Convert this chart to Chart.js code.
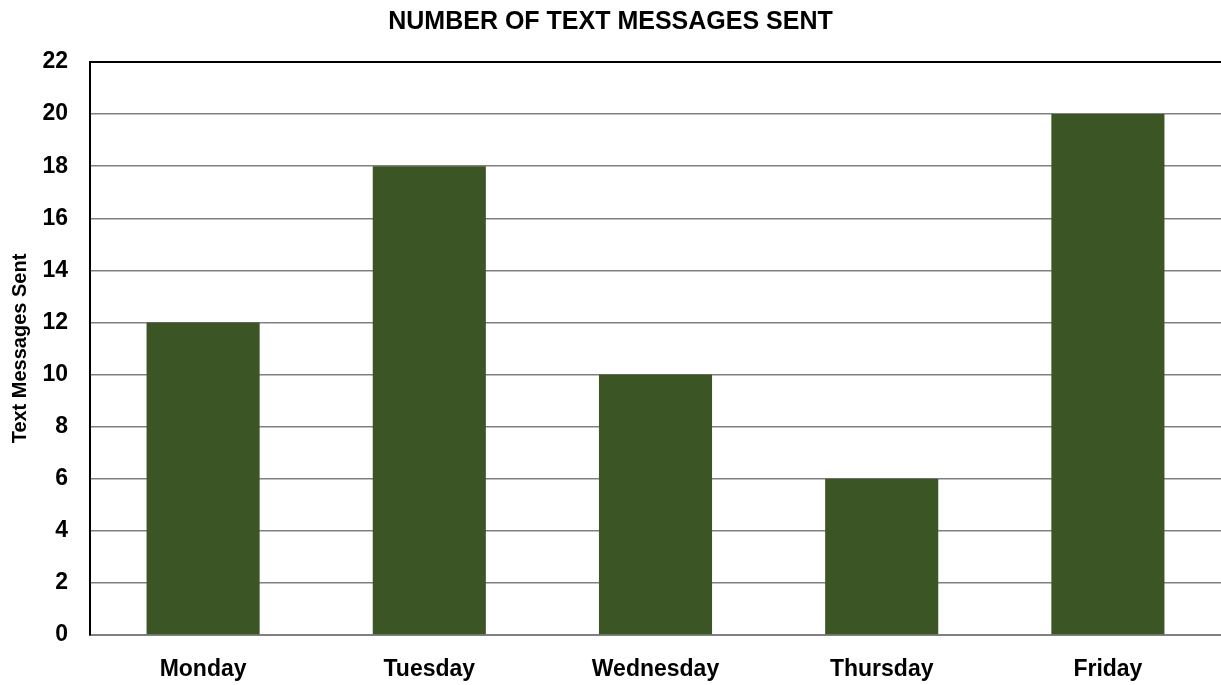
<!DOCTYPE html>
<html>
<head>
<meta charset="utf-8">
<script src="https://cdn.jsdelivr.net/npm/chart.js@4"></script>
<style>
  html, body { margin: 0; padding: 0; background: #fff; }
  #wrap { width: 1221px; height: 685px; }
</style>
</head>
<body>
<div id="wrap"><canvas id="chart"></canvas></div>
<script>
const days = ["Monday", "Tuesday", "Wednesday", "Thursday", "Friday"];
const messagesSent = [12, 18, 10, 6, 20];
const yMax = 22;
const yStep = 2;

const fontFamily = "'Liberation Sans', Arial, sans-serif";

// top frame line (Excel-style plot area border)
const topBorder = {
    id: 'topBorder',
    afterDraw: (chart) => {
        const ctx = chart.ctx;
        const a = chart.chartArea;
        ctx.save();
        ctx.strokeStyle = "#000";
        ctx.lineWidth = 2;
        ctx.beginPath();
        ctx.moveTo(a.left, a.top);
        ctx.lineTo(a.right, a.top);
        ctx.stroke();
        ctx.restore();
    }
};

new Chart(document.getElementById("chart"), {
    type: "bar",
    plugins: [topBorder],
    data: {
        labels: days,
        datasets: [{
            data: messagesSent,
            backgroundColor: "#3B5624",
            categoryPercentage: 1,
            barPercentage: 0.5
        }]
    },
    options: {
        responsive: true,
        maintainAspectRatio: false,
        animation: false,
        layout: { padding: 0 },
        plugins: {
            legend: { display: false },
            tooltip: { enabled: false },
            title: {
                display: true,
                text: "NUMBER OF TEXT MESSAGES SENT",
                color: "#000",
                font: { family: fontFamily, size: 25, weight: "bold", lineHeight: 1.2 },
                padding: { top: 7, bottom: 25 }
            }
        },
        scales: {
            x: {
                grid: { display: false, drawTicks: false },
                border: { display: true, color: "#808080", width: 2 },
                ticks: {
                    color: "#000",
                    padding: 21,
                    font: { family: fontFamily, size: 23, weight: "bold", lineHeight: 1.2 }
                },
                afterFit: (scale) => { scale.height = 50; }
            },
            y: {
                min: 0,
                max: yMax,
                grid: {
                    color: "#808080",
                    lineWidth: 1.5,
                    drawTicks: false
                },
                border: { display: true, color: "#000", width: 2 },
                ticks: {
                    stepSize: yStep,
                    color: "#000",
                    padding: 22,
                    font: { family: fontFamily, size: 23, weight: "bold" }
                },
                title: {
                    display: true,
                    text: "Text Messages Sent",
                    color: "#000",
                    padding: { top: 8, bottom: 0 },
                    font: { family: fontFamily, size: 20, weight: "bold" }
                },
                afterFit: (scale) => { scale.width = 90; }
            }
        }
    }
});
</script>
</body>
</html>
